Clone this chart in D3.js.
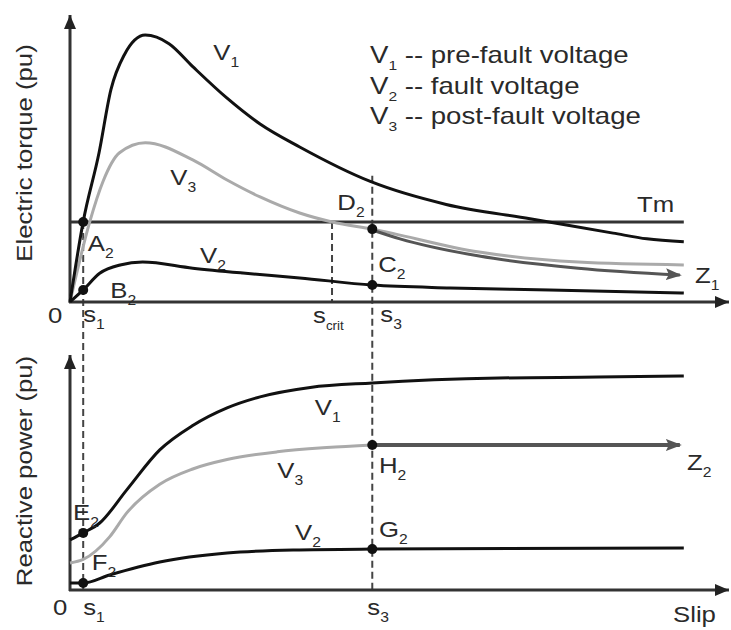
<!DOCTYPE html>
<html>
<head>
<meta charset="utf-8">
<script src="https://cdn.jsdelivr.net/npm/d3@7"></script>
<style>
body { margin: 0; background: #fff; }
svg text { font-family: "Liberation Sans", Arial, sans-serif; fill: #2a2a2a; }
</style>
</head>
<body>
<svg id="chart" width="731" height="630"></svg>
<script>
// marked slips on the x axis
var s1 = 2, sCrit = 39.7, s3 = 45.8, sEnd = 93;
var tm = 0.279;

// electric torque curves, [slip, torque pu]
var torqueV1 = [[0,0],[2,0.28],[4.4,0.52],[6.2,0.74],[8.2,0.86],[11.4,0.93],[15,0.9],[18.6,0.82],[23.8,0.71],[28.8,0.62],[34.8,0.54],[45.5,0.42],[57,0.34],[69.7,0.29],[82.3,0.24],[87.4,0.22],[93,0.21]];
var torqueV2 = [[0,0],[2,0.042],[4.5,0.1],[7.6,0.129],[11,0.139],[18.6,0.118],[26.2,0.101],[34.8,0.084],[45.8,0.059],[57.6,0.049],[72.7,0.042],[93,0.031]];
var torqueV3 = [[0,0],[3,0.28],[5,0.42],[7.5,0.52],[11.4,0.555],[18.6,0.495],[23.8,0.425],[28.8,0.366],[34.8,0.31],[39.7,0.279],[45.8,0.254],[62,0.174],[77,0.139],[93,0.129]];
var torqueZ1 = [[45.8,0.251],[50,0.22],[62,0.16],[77,0.118],[92.4,0.094]];

// reactive power curves, [slip, Q pu]
var qV1 = [[0,0.213],[2,0.243],[4.5,0.285],[8.6,0.426],[13.6,0.596],[18.6,0.7],[23.8,0.775],[28.8,0.822],[36.4,0.862],[45.8,0.881],[65,0.902],[80,0.906],[93,0.911]];
var qV2 = [[0,0.03],[2,0.03],[6,0.064],[13.6,0.119],[23.8,0.157],[33.8,0.17],[45.8,0.174],[93,0.179]];
var qV3 = [[0,0.115],[2,0.13],[6,0.226],[8.6,0.328],[13.6,0.45],[18.6,0.515],[23.8,0.555],[31.4,0.588],[38.9,0.606],[45.8,0.617]];
var qZ2 = [[45.8,0.617],[92.4,0.617]];

// operating points
var torquePoints = [[s1,tm],[s1,0.042],[s3,0.254],[s3,0.059]];
var qPoints = [[s1,0.243],[s1,0.03],[s3,0.617],[s3,0.174]];

// annotations [text, subscript, slip, value]
var torqueLabels = [["V","1",21.7,0.843],["V","3",15.2,0.408],["V","2",19.7,0.136],["A","2",2.7,0.178],["B","2",6.1,0.014],["D","2",40.5,0.321],["C","2",46.7,0.105],["Tm","",85.9,0.314],["Z","1",94.7,0.066]];
var qLabels = [["V","1",37.1,0.745],["V","3",31.4,0.477],["V","2",34.1,0.213],["E","2",0.45,0.298],["F","2",3.3,0.085],["H","2",46.8,0.498],["G","2",46.8,0.226],["Z","2",93.5,0.511]];

var legendKeys = ["1","2","3"];
var legendTexts = ["pre-fault voltage","fault voltage","post-fault voltage"];

var svg = d3.select("#chart");
var x = d3.scaleLinear().domain([0,100]).range([70,730]);
var yT = d3.scaleLinear().domain([0,1]).range([302,15]);
var yB = d3.scaleLinear().domain([0,1]).range([590,355]);

var defs = svg.append("defs");
defs.append("marker").attr("id","axisArrow").attr("markerUnits","userSpaceOnUse")
  .attr("markerWidth",14).attr("markerHeight",12).attr("refX",14).attr("refY",6).attr("orient","auto")
  .append("path").attr("d","M0,0L14,6L0,12z").attr("fill","#222");
defs.append("marker").attr("id","zArrow").attr("markerUnits","userSpaceOnUse")
  .attr("markerWidth",16).attr("markerHeight",12).attr("refX",14).attr("refY",6).attr("orient","auto")
  .append("path").attr("d","M0,0L16,6L0,12L3,6z").attr("fill","#555");

var stretch = 1.12;
function label(g, px, py, main, sub, size, subSize, sx) {
  var t = g.append("text")
    .attr("transform","translate(" + px + "," + py + ") scale(" + (sx || stretch) + ",1)")
    .style("font-size", size + "px");
  t.append("tspan").text(main);
  if (sub) {
    t.append("tspan").attr("dy", 7).style("font-size", subSize + "px").text(sub);
  }
  return t;
}

function panel(y, curves, points, labels, refLine) {
  var g = svg.append("g");
  var line = d3.line().x(function (d) { return x(d[0]); }).y(function (d) { return y(d[1]); })
    .curve(d3.curveMonotoneX);

  // axes
  g.append("line").attr("x1",x(0)).attr("x2",x(0)).attr("y1",y(0)+1).attr("y2",y(1))
    .attr("stroke","#333").attr("stroke-width",3).attr("marker-end","url(#axisArrow)");
  g.append("line").attr("x1",x(0)-1).attr("x2",729).attr("y1",y(0)).attr("y2",y(0))
    .attr("stroke","#333").attr("stroke-width",3).attr("marker-end","url(#axisArrow)");

  // Tm line
  if (refLine) {
    g.append("line").attr("x1",x(0)).attr("x2",x(sEnd)).attr("y1",y(refLine)).attr("y2",y(refLine))
      .attr("stroke","#333").attr("stroke-width",3);
  }

  for (var i = 0; i < curves.length; i++) {
    var c = curves[i];
    g.append("path").attr("d", line(c.data)).attr("fill","none")
      .attr("stroke", c.color).attr("stroke-width", c.width)
      .attr("marker-end", c.arrow ? "url(#zArrow)" : null);
  }

  g.selectAll("circle").data(points).enter().append("circle")
    .attr("cx", function (d) { return x(d[0]); })
    .attr("cy", function (d) { return y(d[1]); })
    .attr("r", 5).attr("fill","#111");

  for (var k = 0; k < labels.length; k++) {
    var l = labels[k];
    label(g, x(l[2]), y(l[3]), l[0], l[1], 23, 14);
  }
  return g;
}

// dashed guides
function dashed(xv, ya, yb) {
  svg.append("line").attr("x1",x(xv)).attr("x2",x(xv)).attr("y1",ya).attr("y2",yb)
    .attr("stroke","#444").attr("stroke-width",2).attr("stroke-dasharray","7,4");
}
dashed(s1, yT(tm), yB(0));
dashed(sCrit, yT(tm), yT(0));
dashed(s3, yT(0.44), yB(0));

// top panel
panel(yT, [
  {data: torqueV3, color: "#aaa", width: 3},
  {data: torqueV1, color: "#111", width: 3},
  {data: torqueV2, color: "#111", width: 3},
  {data: torqueZ1, color: "#555", width: 3, arrow: true}
], torquePoints, torqueLabels, tm);

// bottom panel
panel(yB, [
  {data: qV3, color: "#aaa", width: 3},
  {data: qV1, color: "#111", width: 3},
  {data: qV2, color: "#111", width: 3},
  {data: qZ2, color: "#555", width: 4, arrow: true}
], qPoints, qLabels, null);

// slip labels under each axis
label(svg, 48, 323, "0", "", 23, 14);
label(svg, x(s1), 322, "s", "1", 23, 14);
label(svg, x(sCrit) - 19, 323, "s", "crit", 23, 12);
label(svg, x(s3) + 8, 322, "s", "3", 23, 14);
label(svg, 53, 615, "0", "", 23, 14);
label(svg, x(s1), 615, "s", "1", 23, 14);
label(svg, x(s3) - 5, 615, "s", "3", 23, 14);
label(svg, 673, 622, "Slip", "", 23, 14);

// axis titles
svg.append("text").attr("transform","translate(32,153) rotate(-90) scale(" + stretch + ",1)")
  .attr("text-anchor","middle").style("font-size","23px").text("Electric torque (pu)");
svg.append("text").attr("transform","translate(32,471) rotate(-90) scale(" + stretch + ",1)")
  .attr("text-anchor","middle").style("font-size","23px").text("Reactive power (pu)");

// legend
for (var j = 0; j < legendKeys.length; j++) {
  var t = label(svg, 370, 63 + j * 30.5, "V", legendKeys[j], 23, 13, 1.2);
  t.append("tspan").attr("dy", -7).text(" -- " + legendTexts[j]);
}
</script>
</body>
</html>
